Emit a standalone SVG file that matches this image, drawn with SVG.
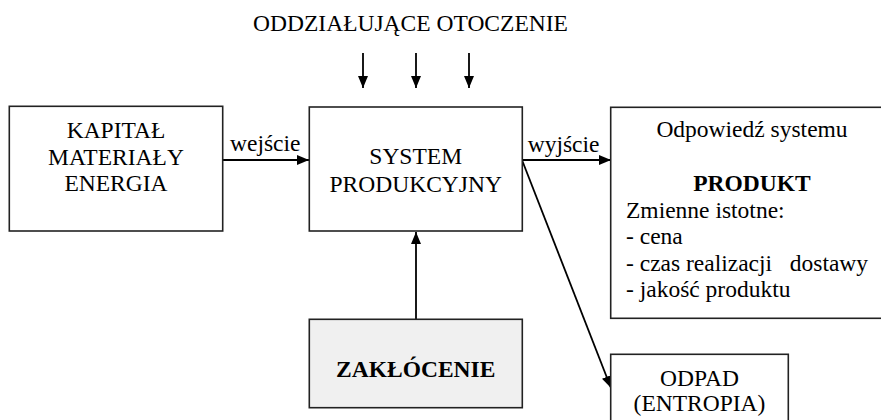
<svg xmlns="http://www.w3.org/2000/svg" width="881" height="420" viewBox="0 0 881 420">
<style>
text{font-family:"Liberation Serif","Times New Roman",serif;font-size:23.5px;fill:#000}
.c{text-anchor:middle}
.b{font-weight:bold}
.box{fill:#fff;stroke:#222;stroke-width:1.6}
.gray{fill:#f0f0f0}
.ln{stroke:#000;stroke-width:1.8;fill:none;marker-end:url(#ah)}
</style>
<defs>
<marker id="ah" viewBox="0 0 12 10" refX="12" refY="5" markerWidth="12" markerHeight="10" markerUnits="userSpaceOnUse" orient="auto">
<path d="M0,0 L12,5 L0,10 z" fill="#000"/>
</marker>
</defs>
<rect width="881" height="420" fill="#fff"/>
<g id="title">
<text class="c" x="410.5" y="31">ODDZIAŁUJĄCE OTOCZENIE</text>
</g>
<g id="connectors">
<line class="ln" x1="363" y1="53" x2="363" y2="88"/>
<line class="ln" x1="416" y1="53" x2="416" y2="88"/>
<line class="ln" x1="469" y1="53" x2="469" y2="88"/>
<line class="ln" x1="223" y1="160" x2="309" y2="160"/>
<line class="ln" x1="522" y1="160" x2="611" y2="160"/>
<line class="ln" x1="522" y1="160" x2="611" y2="388"/>
<line class="ln" x1="416" y1="319" x2="416" y2="232"/>
<text x="230" y="151">wejście</text>
<text x="527.7" y="152">wyjście</text>
</g>
<g id="kapital">
<rect class="box" x="9.3" y="106.3" width="213.4" height="124.7"/>
<text class="c" x="116" y="138">KAPITAŁ</text>
<text class="c" x="116" y="164.5">MATERIAŁY</text>
<text class="c" x="116" y="191">ENERGIA</text>
</g>
<g id="system">
<rect class="box" x="309.3" y="107" width="213" height="124"/>
<text class="c" x="415.7" y="164">SYSTEM</text>
<text class="c" x="415.7" y="191.5">PRODUKCYJNY</text>
</g>
<g id="odpowiedz">
<rect class="box" x="610.7" y="107.3" width="290" height="211"/>
<text class="c" x="752" y="136.5">Odpowiedź systemu</text>
<text class="c b" x="752" y="191">PRODUKT</text>
<text x="626" y="217.5">Zmienne istotne:</text>
<text x="626" y="244">- cena</text>
<text x="626" y="270.5" xml:space="preserve">- czas realizacji   dostawy</text>
<text x="626" y="296.5">- jakość produktu</text>
</g>
<g id="zaklocenie">
<rect class="box gray" x="309.3" y="319.3" width="213" height="88.4"/>
<text class="c b" x="415.7" y="376.7">ZAKŁÓCENIE</text>
</g>
<g id="odpad">
<rect class="box" x="610.7" y="354.3" width="177.6" height="90"/>
<text class="c" x="699.5" y="385.5">ODPAD</text>
<text class="c" x="699.5" y="411">(ENTROPIA)</text>
</g>
</svg>
